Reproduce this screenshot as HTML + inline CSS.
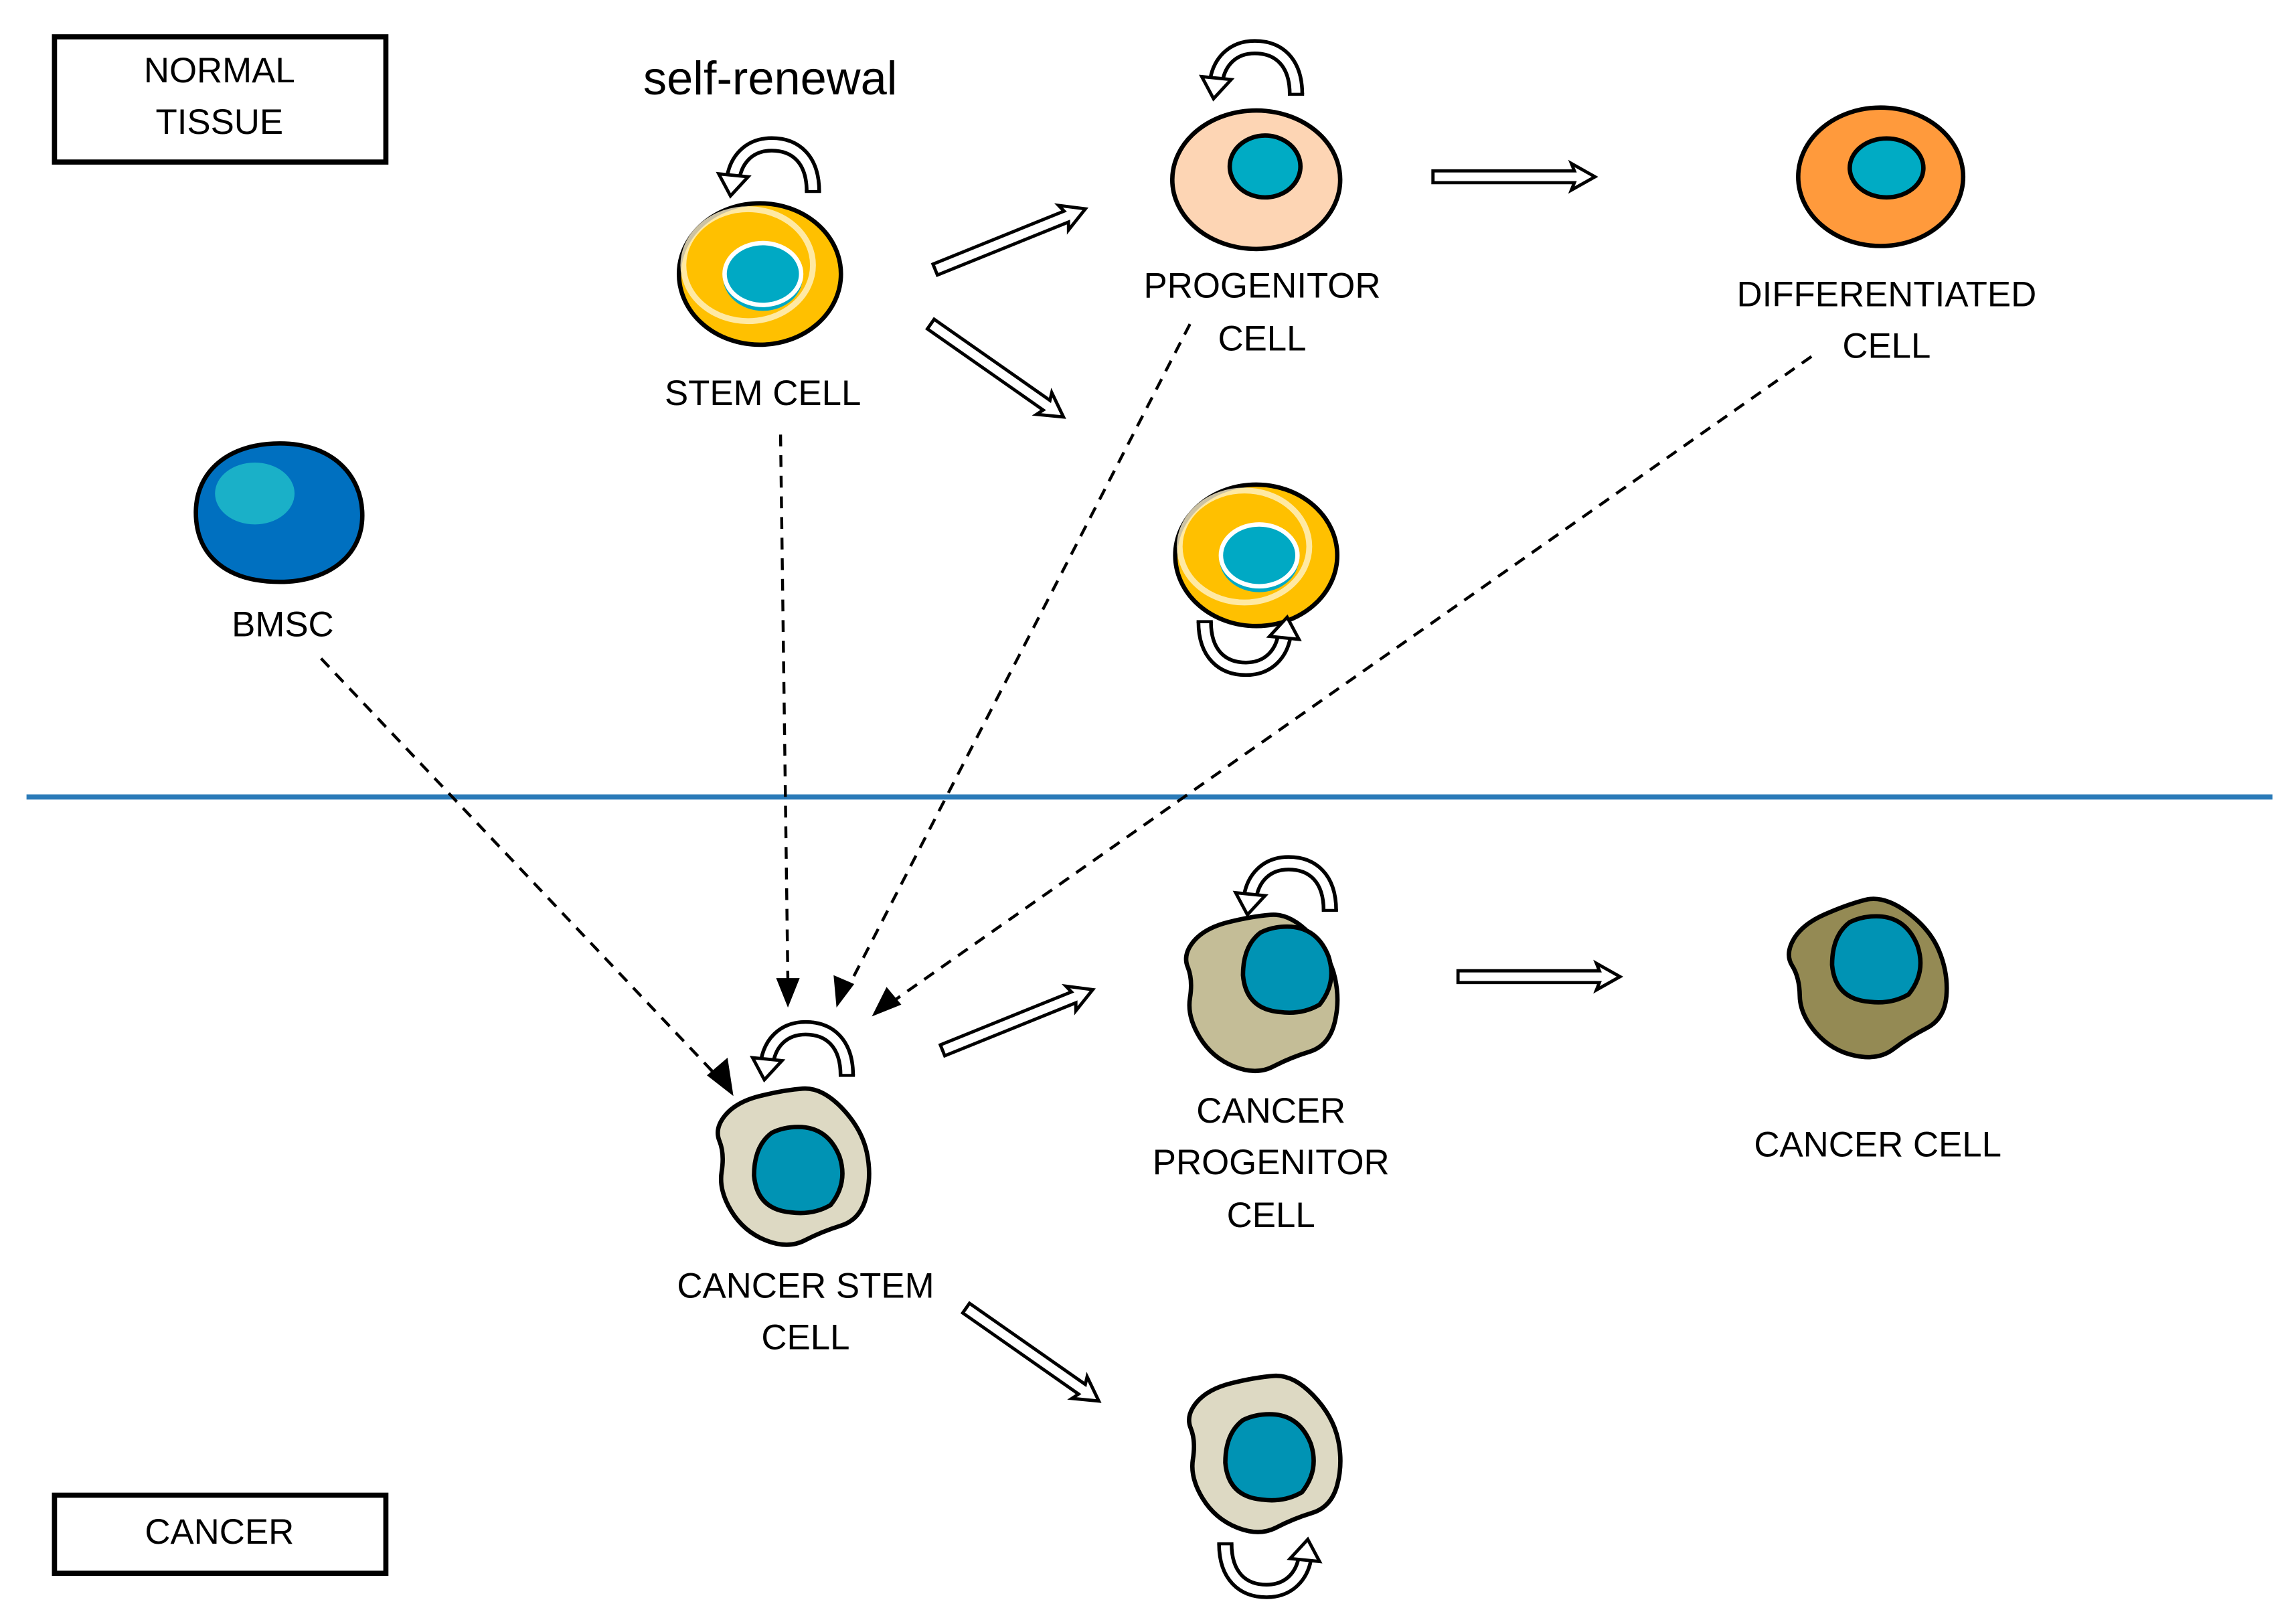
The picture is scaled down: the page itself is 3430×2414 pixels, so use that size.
<!DOCTYPE html>
<html><head><meta charset="utf-8">
<style>
html,body{margin:0;padding:0;background:#fff;}
svg{display:block;}
text{font-family:"Liberation Sans",sans-serif;fill:#000;}
</style></head>
<body>
<svg width="3430" height="2414" viewBox="0 0 1559 1097" preserveAspectRatio="none" xmlns="http://www.w3.org/2000/svg">
<defs>
  <g id="harrow">
    <polygon points="0,-4 96,-4 94,-9 110,0 94,9 96,4 0,4" fill="#fff" stroke="#000" stroke-width="2.2"/>
  </g>
  <g id="curl">
    <path d="M30,16 C30,-6 18,-16 2,-16 C-14,-16 -22,-5 -24,6" fill="none" stroke="#000" stroke-width="11"/>
    <path d="M30,16 C30,-6 18,-16 2,-16 C-14,-16 -22,-5 -24,6" fill="none" stroke="#fff" stroke-width="6"/>
    <polygon points="-34,4 -14,6 -26,19" fill="#fff" stroke="#000" stroke-width="2.2"/>
    <line x1="24.5" y1="16" x2="35.5" y2="16" stroke="#000" stroke-width="2"/>
  </g>
  <path id="blob" d="M5,-49 Q18,-50 31.5,-36 Q45,-22 48.5,-6 Q52,10 48,25 Q44,40 31,44 Q18,48 6.5,54 Q-5,60 -20,54 Q-35,48 -43.5,34 Q-52,20 -50,7.5 Q-48,-5 -51.5,-13.5 Q-55,-22 -47.5,-31 Q-40,-40 -24,-44 Q-8,-48 5,-49Z"/>
  <path id="nuc" d="M0,-28 Q20,-28 28,-8 Q34,10 22,25 Q10,32 -5,30 Q-28,28 -30,5 Q-30,-15 -18,-24 Q-10,-28 0,-28Z"/>
  <g id="stem">
    <ellipse cx="0" cy="0" rx="55" ry="48" fill="#ffc000" stroke="#000" stroke-width="3"/>
    <ellipse cx="-8" cy="-6" rx="44" ry="38" fill="none" stroke="#fff2cc" stroke-width="4" opacity="0.8"/>
    <ellipse cx="2" cy="2" rx="27" ry="23" fill="#00a9c4"/>
    <ellipse cx="2" cy="0" rx="26" ry="21" fill="none" stroke="#fff" stroke-width="3"/>
  </g>
</defs>

<rect x="37" y="25" width="225" height="85" fill="#fff" stroke="#000" stroke-width="3.5"/>
<text x="149" y="56" font-size="24" text-anchor="middle">NORMAL</text>
<text x="149" y="91" font-size="24" text-anchor="middle">TISSUE</text>
<rect x="37" y="1015" width="225" height="53" fill="#fff" stroke="#000" stroke-width="3.5"/>
<text x="149" y="1048" font-size="24" text-anchor="middle">CANCER</text>

<line x1="18" y1="541" x2="1543" y2="541" stroke="#2a7ab8" stroke-width="3.5"/>

<text x="523" y="64" font-size="32" text-anchor="middle">self-renewal</text>

<g stroke="#000" stroke-width="2" stroke-dasharray="8,6" fill="none">
  <line x1="218" y1="447" x2="492" y2="736"/>
  <line x1="530" y1="295" x2="535" y2="668"/>
  <line x1="808" y1="220" x2="576" y2="670"/>
  <line x1="1230" y1="242" x2="606" y2="680"/>
</g>
<g fill="#000">
  <polygon points="498,744 480,730 494,718"/>
  <polygon points="535,684 527,664 543,664"/>
  <polygon points="568,684 566,662 580,668"/>
  <polygon points="592,690 602,670 612,682"/>
</g>

<use href="#stem" x="516" y="186"/>
<use href="#curl" x="522" y="114"/>
<text x="518" y="275" font-size="24" text-anchor="middle">STEM CELL</text>

<ellipse cx="853" cy="122" rx="57" ry="47" fill="#fdd5b4" stroke="#000" stroke-width="3"/>
<ellipse cx="859" cy="113" rx="24" ry="21" fill="#00abc4" stroke="#000" stroke-width="3"/>
<use href="#curl" x="850" y="48"/>
<text x="857" y="202" font-size="24" text-anchor="middle">PROGENITOR</text>
<text x="857" y="238" font-size="24" text-anchor="middle">CELL</text>

<ellipse cx="1277" cy="120" rx="56" ry="47" fill="#ff9a3c" stroke="#000" stroke-width="3"/>
<ellipse cx="1281" cy="114" rx="25" ry="20" fill="#00abc4" stroke="#000" stroke-width="3"/>
<text x="1281" y="208" font-size="24" text-anchor="middle">DIFFERENTIATED</text>
<text x="1281" y="243" font-size="24" text-anchor="middle">CELL</text>

<use href="#stem" x="853" y="377"/>
<use href="#curl" transform="translate(848,438) scale(-1,-1)"/>

<path d="M190,301 C225,301 246,322 246,350 C246,378 222,395 190,395 C155,395 133,378 133,348 C133,320 155,301 190,301Z" fill="#0070c0" stroke="#000" stroke-width="3"/>
<ellipse cx="173" cy="335" rx="27" ry="21" fill="#1ab0c8"/>
<text x="192" y="432" font-size="24" text-anchor="middle">BMSC</text>

<use href="#harrow" transform="translate(635,183) rotate(-22)"/>
<use href="#harrow" transform="translate(632,220) rotate(35)"/>
<use href="#harrow" transform="translate(973,120)"/>
<use href="#harrow" transform="translate(640,713) rotate(-22)"/>
<use href="#harrow" transform="translate(990,663)"/>
<use href="#harrow" transform="translate(656,888) rotate(35)"/>

<use href="#blob" transform="translate(540,788)" fill="#ddd9c3" stroke="#000" stroke-width="3"/>
<use href="#nuc" transform="translate(542,793)" fill="#0093b4" stroke="#000" stroke-width="3"/>
<use href="#curl" x="545" y="714"/>
<text x="547" y="881" font-size="24" text-anchor="middle">CANCER STEM</text>
<text x="547" y="916" font-size="24" text-anchor="middle">CELL</text>

<use href="#blob" transform="translate(858,670)" fill="#c4bd97" stroke="#000" stroke-width="3"/>
<use href="#nuc" transform="translate(874,657)" fill="#0093b4" stroke="#000" stroke-width="3"/>
<use href="#curl" x="873" y="602"/>
<text x="863" y="762" font-size="24" text-anchor="middle">CANCER</text>
<text x="863" y="797" font-size="24" text-anchor="middle">PROGENITOR</text>
<text x="863" y="833" font-size="24" text-anchor="middle">CELL</text>

<use href="#blob" transform="translate(1270,660) rotate(-10)" fill="#948a54" stroke="#000" stroke-width="3"/>
<use href="#nuc" transform="translate(1274,650)" fill="#0093b4" stroke="#000" stroke-width="3"/>
<text x="1275" y="785" font-size="24" text-anchor="middle">CANCER  CELL</text>

<use href="#blob" transform="translate(860,983)" fill="#ddd9c3" stroke="#000" stroke-width="3"/>
<use href="#nuc" transform="translate(862,988)" fill="#0093b4" stroke="#000" stroke-width="3"/>
<use href="#curl" transform="translate(862,1064) scale(-1,-1)"/>
</svg>
</body></html>
